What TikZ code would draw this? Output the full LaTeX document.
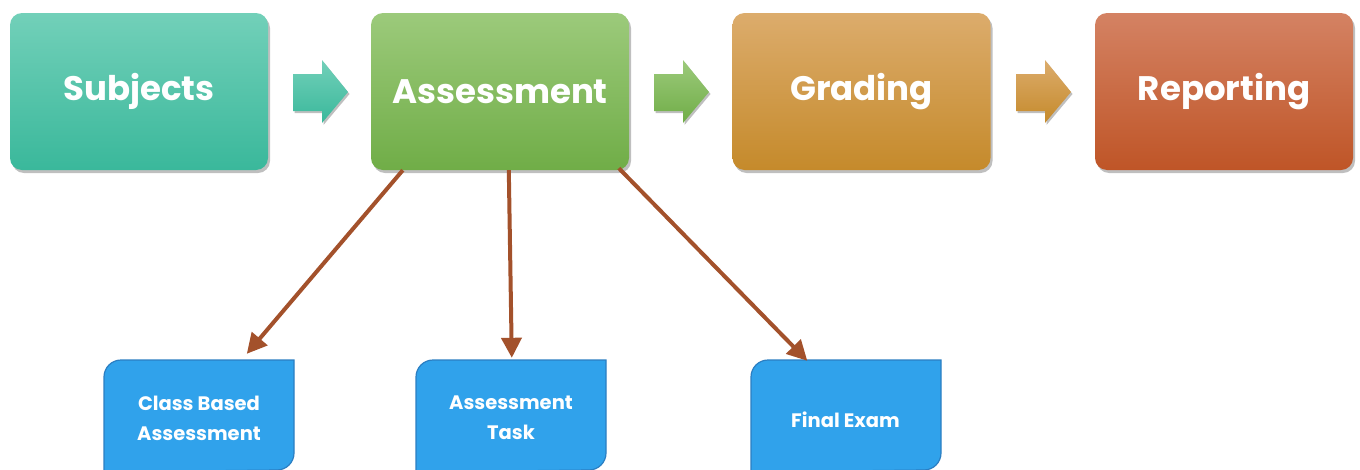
\documentclass[tikz,border=0pt]{standalone}
\usepackage{fontspec}
\setmainfont{Poppins}
\usetikzlibrary{arrows.meta,shadows,calc}
\definecolor{tealT}{HTML}{72D0B9}\definecolor{tealB}{HTML}{3AB89B}
\definecolor{greenT}{HTML}{9CCA7B}\definecolor{greenB}{HTML}{70AD47}
\definecolor{goldT}{HTML}{DCAC6C}\definecolor{goldB}{HTML}{C58A2B}
\definecolor{rustT}{HTML}{D48263}\definecolor{rustB}{HTML}{BF5527}
\definecolor{boxblue}{HTML}{30A2EB}\definecolor{boxedge}{HTML}{2B7EC2}
\definecolor{brownline}{HTML}{A3512B}
\tikzset{
  bigbox/.style={rounded corners=12pt, minimum width=258pt, minimum height=157pt,
    text=white, font=\fontsize{34}{40}\selectfont\bfseries, inner sep=0pt,
    drop shadow={shadow xshift=2pt, shadow yshift=-3pt, opacity=0.25, fill=black}},
  smallbox/.style={minimum width=190pt, minimum height=110pt, inner sep=0pt,
    text=white, font=\fontsize{19.5}{30}\selectfont\bfseries, align=center},
  blueshape/.style={fill=boxblue, draw=boxedge, line width=1.2pt},
  blockarrow/.style={drop shadow={shadow xshift=1.5pt, shadow yshift=-2pt, opacity=0.25, fill=black}},
  link/.style={draw=brownline, line width=4pt, -{Triangle[length=20pt,width=20pt]}}
}
\begin{document}
\begin{tikzpicture}[x=1pt,y=-1pt]
\useasboundingbox (0,0) rectangle (1360,469);
% top row
\node[bigbox, top color=tealT, bottom color=tealB] (subj) at (139,91.5) {Subjects};
\node[bigbox, top color=greenT, bottom color=greenB] (assess) at (500,91.5) {Assessment};
\node[bigbox, top color=goldT, bottom color=goldB] (grade) at (861.5,91.5) {Grading};
\node[bigbox, top color=rustT, bottom color=rustB] (report) at (1224,91.5) {Reporting};
% block arrows
\foreach \x/\ct/\cb in {293/tealT/tealB, 654/greenT/greenB, 1016/goldT/goldB}{
  \path[blockarrow, top color=\ct, bottom color=\cb]
    (\x,74) -- (\x+29,74) -- (\x+29,60) -- (\x+55,92) -- (\x+29,123) -- (\x+29,111) -- (\x,111) -- cycle;
}
% bottom box shapes (rounded top-left and bottom-right corners)
\foreach \x in {104, 416, 751}{
  \path[blueshape]
    (\x,472) -- (\x,377) arc[start angle=180, end angle=270, radius=17] -- (\x+190,360)
    -- (\x+190,453) arc[start angle=0, end angle=90, radius=17] -- cycle;
}
\node[smallbox] (cba) at (199,418) {Class Based\\Assessment};
\node[smallbox] (task) at (511,418) {Assessment\\Task};
\node[smallbox] (final) at (845.5,420) {Final Exam};
% connectors
\draw[link] ($(assess.south west)+(32,0)$) -- ($(cba.north west)+(143,-9)$);
\draw[link] ($(assess.south west)+(138,0)$) -- ($(task.north west)+(96,-5)$);
\draw[link] ($(assess.south west)+(248,-2)$) -- ($(final.north west)+(57,-4)$);
\end{tikzpicture}
\end{document}
